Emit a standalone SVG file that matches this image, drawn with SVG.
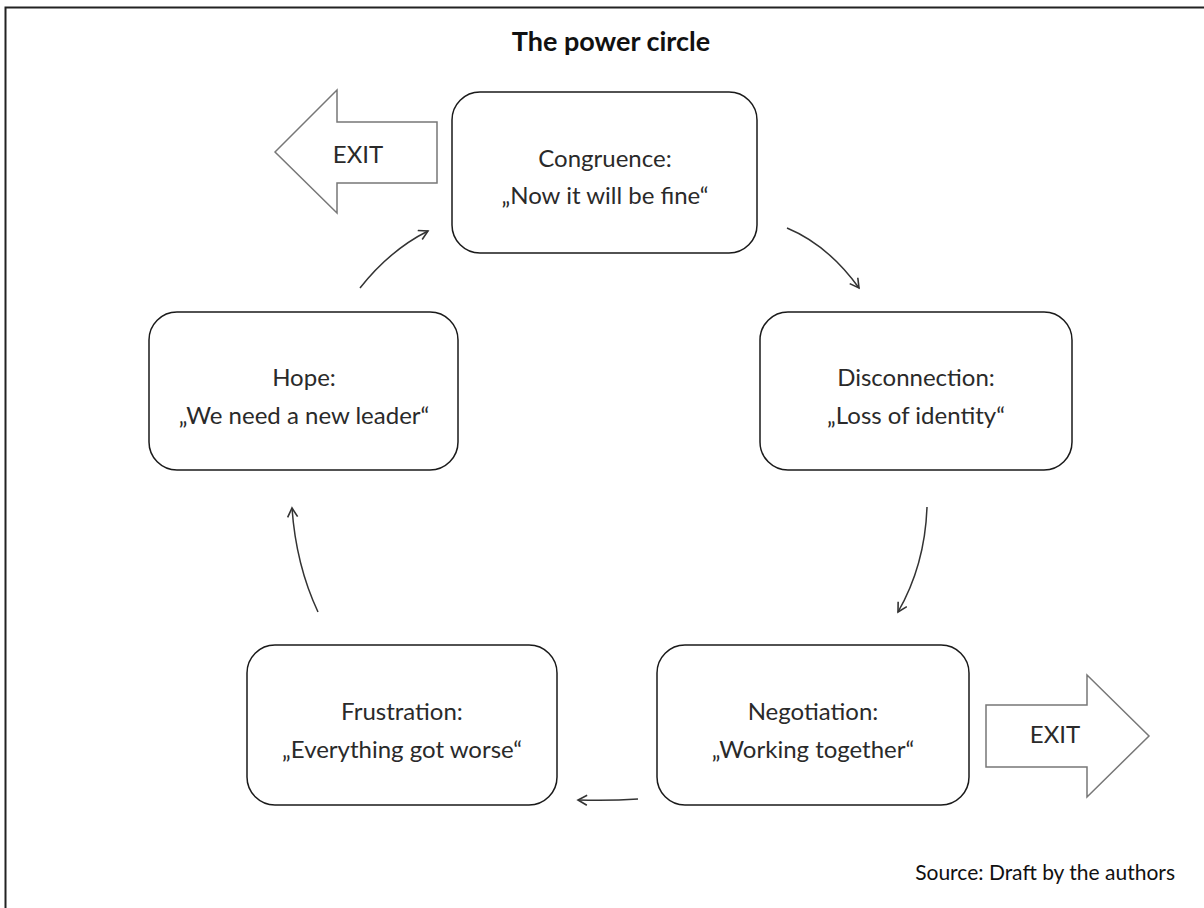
<svg xmlns="http://www.w3.org/2000/svg" width="1204" height="908" viewBox="0 0 1204 908">
<defs>
<style>
.node rect{fill:#fff;stroke:#1a1a1a;stroke-width:1.5}
.lbl{font-family:Lato,"Open Sans","Liberation Sans",sans-serif;font-size:24px;fill:#2a2a2a;text-anchor:middle}
.exit path{fill:#fff;stroke:#777;stroke-width:1.5}
.conn path{fill:none;stroke:#333;stroke-width:1.5}
</style>
<marker id="ah" viewBox="0 0 12 12" refX="10" refY="6" markerWidth="12" markerHeight="12" markerUnits="userSpaceOnUse" orient="auto">
<path d="M1,1 L10,6 L1,11" fill="none" stroke="#333" stroke-width="1.6"/>
</marker>
</defs>
<rect x="0" y="0" width="1204" height="908" fill="#fff"/>
<rect x="5.5" y="7.5" width="1210" height="920" fill="none" stroke="#222" stroke-width="2"/>
<text x="611" y="51" font-family="Lato,'Open Sans','Liberation Sans',sans-serif" font-size="27" font-weight="bold" fill="#111" text-anchor="middle">The power circle</text>

<g id="exit-left" class="exit">
<path d="M275,152 L337,90 L337,122 L437,122 L437,183 L337,183 L337,213 Z"/>
<text class="lbl" x="358" y="163">EXIT</text>
</g>
<g id="exit-right" class="exit">
<path d="M986,705 L1087,705 L1087,675 L1149,736 L1087,797 L1087,767 L986,767 Z"/>
<text class="lbl" x="1055" y="743">EXIT</text>
</g>

<g id="congruence" class="node">
<rect x="452" y="92" width="305" height="161" rx="28"/>
<text class="lbl" x="605" y="167">Congruence:</text>
<text class="lbl" x="605" y="204">„Now it will be fine“</text>
</g>
<g id="disconnection" class="node">
<rect x="760" y="312" width="312" height="158" rx="28"/>
<text class="lbl" x="916" y="386">Disconnection:</text>
<text class="lbl" x="916" y="424">„Loss of identity“</text>
</g>
<g id="hope" class="node">
<rect x="149" y="312" width="309" height="158" rx="28"/>
<text class="lbl" x="304" y="386">Hope:</text>
<text class="lbl" x="304" y="424">„We need a new leader“</text>
</g>
<g id="frustration" class="node">
<rect x="247" y="645" width="310" height="160" rx="28"/>
<text class="lbl" x="402" y="720">Frustration:</text>
<text class="lbl" x="402" y="758">„Everything got worse“</text>
</g>
<g id="negotiation" class="node">
<rect x="657" y="645" width="312" height="160" rx="28"/>
<text class="lbl" x="813" y="720">Negotiation:</text>
<text class="lbl" x="813" y="758">„Working together“</text>
</g>

<g id="connectors" class="conn">
<path d="M787,228 Q828,245 859,288" marker-end="url(#ah)"/>
<path d="M927,507 Q925,565 898,612" marker-end="url(#ah)"/>
<path d="M638,799 Q610,801 578,800" marker-end="url(#ah)"/>
<path d="M318,612 Q296,565 292,508" marker-end="url(#ah)"/>
<path d="M360,288 Q390,250 428,231" marker-end="url(#ah)"/>
</g>

<text x="1175" y="880" font-family="Lato,'Open Sans','Liberation Sans',sans-serif" font-size="21" fill="#111" text-anchor="end">Source: Draft by the authors</text>
</svg>
